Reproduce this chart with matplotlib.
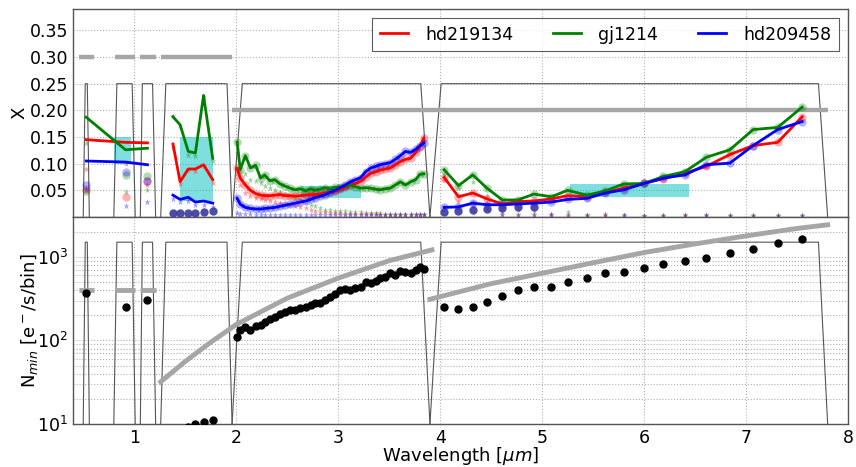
import numpy as np
import matplotlib
matplotlib.use("Agg")
import matplotlib.pyplot as plt
from matplotlib.patches import Rectangle

# ---------------- data ----------------
series_names = ["hd219134", "gj1214", "hd209458"]
series_colors = ["r", "g", "b"]

# filter bandpass trapezoids: (base_left, top_left, top_right, base_right)
bands = [(0.50, 0.52, 0.54, 0.56), (0.80, 0.83, 0.98, 1.01), (1.06, 1.08, 1.18, 1.21),
         (1.26, 1.31, 1.91, 1.96), (1.96, 2.06, 3.81, 3.90), (3.90, 4.01, 7.71, 7.80)]
band_top_x = 0.25
band_top_n = 1500

# threshold levels (top panel)
thr_x_segments = [(0.46, 0.61), (0.81, 1.01), (1.06, 1.21), (1.26, 1.96)]
thr_x_level = 0.30
thr_x_long = (1.96, 7.80)
thr_x_long_level = 0.20

# cyan regions (x0, x1, y0, y1)
cyan_boxes = [(0.80, 0.97, 0.100, 0.150), (1.45, 1.77, 0.030, 0.150),
              (2.64, 3.22, 0.035, 0.059), (5.27, 6.44, 0.038, 0.062)]

# ---- band 1 (photometric points)
b1_x = [0.53, 0.915, 1.13]
b1_red = [0.145, 0.140, 0.139]
b1_green = [0.187, 0.126, 0.129]
b1_blue = [0.105, 0.103, 0.098]
b1_red_circ = [0.053, 0.038, 0.068]
b1_green_circ = [0.049, 0.079, 0.077]
b1_blue_circ = [0.060, 0.085, 0.068]
b1_red_star = [0.090, 0.100, 0.060]
b1_green_star = [0.139, 0.046, 0.051]
b1_blue_star = [0.050, 0.021, 0.029]

# ---- band 2
b2_x = [1.38, 1.45, 1.53, 1.60, 1.68, 1.77]
b2_red = [0.137, 0.066, 0.090, 0.090, 0.098, 0.070]
b2_green = [0.188, 0.173, 0.123, 0.120, 0.228, 0.110]
b2_blue = [0.041, 0.033, 0.037, 0.028, 0.030, 0.026]
b2_circ = [0.007, 0.007, 0.007, 0.007, 0.010, 0.011]
b2_red_star = [0.130, 0.062, 0.088, 0.087, 0.095, 0.063]
b2_green_star = [0.190, 0.170, 0.117, 0.115, 0.225, 0.105]
b2_blue_star = [0.034, 0.028, 0.030, 0.022, 0.022, 0.019]

# ---- band 3 (spectroscopic)
b3_x = [2.01, 2.04, 2.09, 2.14, 2.19, 2.24, 2.28, 2.33, 2.38, 2.43, 2.48, 2.53, 2.58,
        2.63, 2.68, 2.73, 2.77, 2.82, 2.87, 2.92, 2.97, 3.02, 3.07, 3.12, 3.17, 3.22,
        3.27, 3.32, 3.37, 3.41, 3.46, 3.51, 3.56, 3.61, 3.66, 3.71, 3.76, 3.80, 3.84]
b3_green = [0.140, 0.089, 0.115, 0.092, 0.097, 0.073, 0.079, 0.068, 0.070, 0.062, 0.058,
            0.054, 0.051, 0.053, 0.049, 0.053, 0.050, 0.052, 0.055, 0.053, 0.056, 0.056,
            0.058, 0.060, 0.057, 0.054, 0.055, 0.054, 0.052, 0.051, 0.053, 0.054, 0.060,
            0.066, 0.060, 0.066, 0.070, 0.080, 0.081]
b3_red = [0.091, 0.073, 0.060, 0.050, 0.044, 0.041, 0.040, 0.040, 0.041, 0.042, 0.040,
          0.040, 0.039, 0.040, 0.041, 0.042, 0.042, 0.043, 0.045, 0.046, 0.048, 0.052,
          0.056, 0.060, 0.063, 0.067, 0.075, 0.082, 0.085, 0.088, 0.090, 0.092, 0.098,
          0.104, 0.108, 0.110, 0.121, 0.132, 0.148]
b3_blue = [0.035, 0.024, 0.018, 0.016, 0.015, 0.015, 0.016, 0.017, 0.018, 0.020, 0.022,
           0.024, 0.026, 0.028, 0.030, 0.033, 0.036, 0.039, 0.042, 0.046, 0.050, 0.055,
           0.060, 0.066, 0.070, 0.074, 0.085, 0.092, 0.095, 0.098, 0.100, 0.102, 0.108,
           0.115, 0.123, 0.121, 0.127, 0.133, 0.139]
b3_green_star = [0.120, 0.085, 0.080, 0.070, 0.068, 0.063, 0.058, 0.054, 0.050, 0.047, 0.043,
                 0.038, 0.035, 0.031, 0.028, 0.023, 0.020, 0.016, 0.014, 0.013, 0.012, 0.012,
                 0.011, 0.010, 0.009, 0.009, 0.008, 0.008, 0.007, 0.007, 0.006, 0.006, 0.006,
                 0.005, 0.005, 0.005, 0.005, 0.005, 0.005]
b3_red_star = [0.080, 0.060, 0.045, 0.040, 0.036, 0.034, 0.032, 0.030, 0.029, 0.027, 0.025,
               0.022, 0.020, 0.018, 0.016, 0.014, 0.012, 0.010, 0.009, 0.008, 0.007, 0.007,
               0.006, 0.006, 0.006, 0.005, 0.005, 0.005, 0.005, 0.004, 0.004, 0.004, 0.004,
               0.004, 0.004, 0.004, 0.004, 0.004, 0.004]
b3_blue_star = [0.008, 0.006, 0.005, 0.005, 0.004, 0.004, 0.004, 0.004, 0.004, 0.003, 0.003,
                0.003, 0.003, 0.003, 0.003, 0.003, 0.003, 0.003, 0.003, 0.003, 0.003, 0.003,
                0.003, 0.003, 0.003, 0.003, 0.003, 0.003, 0.003, 0.003, 0.003, 0.003, 0.003,
                0.003, 0.003, 0.003, 0.003, 0.003, 0.003]

# ---- band 4
b4_x = [4.04, 4.18, 4.32, 4.46, 4.61, 4.76, 4.92, 5.09, 5.25, 5.44, 5.62, 5.80, 6.00,
        6.19, 6.40, 6.61, 6.84, 7.07, 7.31, 7.55]
b4_green = [0.0885, 0.059, 0.079, 0.054, 0.032, 0.032, 0.043, 0.038, 0.050, 0.041, 0.049,
            0.062, 0.063, 0.076, 0.085, 0.112, 0.126, 0.164, 0.168, 0.206]
b4_red = [0.074, 0.038, 0.045, 0.034, 0.0245, 0.029, 0.030, 0.034, 0.040, 0.038, 0.046,
          0.054, 0.063, 0.072, 0.082, 0.095, 0.117, 0.134, 0.140, 0.188]
b4_blue = [0.018, 0.019, 0.026, 0.023, 0.023, 0.0245, 0.026, 0.028, 0.033, 0.035, 0.045,
           0.051, 0.063, 0.073, 0.079, 0.098, 0.101, 0.134, 0.164, 0.179]
b4_green_star = [0.078, 0.056, 0.065, 0.040, 0.012, 0.014, 0.011, 0.004, 0.010, 0.003,
                 0.005, 0.003, 0.002, 0.003, 0.004, 0.004, 0.003, 0.003, 0.003, 0.003]
b4_red_star = [0.070, 0.028, 0.029, 0.025, 0.005, 0.004, 0.004, 0.006, 0.004, 0.003,
               0.003, 0.003, 0.002, 0.002, 0.003, 0.003, 0.002, 0.002, 0.002, 0.002]
b4_blue_star = [0.018, 0.016, 0.020, 0.015, 0.003, 0.003, 0.003, 0.003, 0.002, 0.002,
                0.002, 0.002, 0.002, 0.002, 0.002, 0.002, 0.002, 0.002, 0.002, 0.002]
b4_low_x = [4.04, 4.18, 4.32, 4.46, 4.61, 4.76, 4.92]
b4_low_circ = [0.010, 0.011, 0.014, 0.015, 0.017, 0.018, 0.019]

# ---------------- bottom panel ----------------
nmin_b1_x = [0.53, 0.915, 1.13]
nmin_b1 = [374, 250, 305]
nmin_b2_x = [1.53, 1.60, 1.68, 1.77]
nmin_b2 = [9.2, 10.1, 10.6, 11.2]
nmin_b3 = [109, 134, 146, 134, 149, 153, 168, 181, 193, 208, 216, 232, 232, 243, 250,
           266, 279, 284, 305, 335, 360, 400, 410, 403, 429, 441, 506, 485, 520, 556,
           581, 638, 609, 686, 667, 649, 699, 753, 712]
nmin_b4 = [254, 238, 250, 292, 341, 399, 441, 441, 506, 556, 649, 661, 745, 824, 903,
           964, 1117, 1236, 1459, 1629]

ref_phot_level = 400
ref_phot_segments = [(0.46, 0.61), (0.81, 1.01), (1.06, 1.21)]
ref_curve1_x = [1.26, 1.5, 1.75, 2.0, 2.5, 3.0, 3.5, 3.92]
ref_curve1_y = [32, 56, 95, 155, 320, 556, 900, 1213]
ref_curve2_x = [3.90, 4.5, 5.0, 5.5, 6.0, 6.5, 7.0, 7.5, 7.80]
ref_curve2_y = [311, 478, 637, 850, 1127, 1430, 1783, 2190, 2420]

xticks = [1, 2, 3, 4, 5, 6, 7, 8]
yticks_top = [0.05, 0.10, 0.15, 0.20, 0.25, 0.30, 0.35]

# ---------------- plotting ----------------
plt.rcParams['font.family'] = ['DejaVu Sans']
plt.rcParams['mathtext.fontset'] = 'dejavusans'

fig = plt.figure(figsize=(8.56, 4.67), dpi=100)
ax1 = fig.add_axes([0.0853, 0.5353, 0.9054, 0.4454])
ax2 = fig.add_axes([0.0853, 0.0921, 0.9054, 0.4432], sharex=ax1)

GRAY = '#a6a6a6'
LOWBLUE = '#3a3aa0'
grid_kw = dict(color='#b0b0b0', linestyle=':', linewidth=0.8)

for ax in (ax1, ax2):
    for s in ax.spines.values():
        s.set_color('#555555')
        s.set_linewidth(1.0)
    ax.tick_params(length=0, labelsize=12.5)
    ax.set_axisbelow(True)

# ---- top panel
ax1.set_xlim(0.4, 8.0)
ax1.set_ylim(0, 0.39)
ax1.set_yticks(yticks_top)
ax1.set_yticklabels(['%.2f' % v for v in yticks_top])
ax1.grid(True, which='major', **grid_kw)
plt.setp(ax1.get_xticklabels(), visible=False)

for (a, b, c, d) in bands:
    ax1.plot([a, b, c, d], [0, band_top_x, band_top_x, 0], color='#555555', lw=0.8, zorder=2)
    ax2.plot([a, b, c, d], [10, band_top_n, band_top_n, 10], color='#555555', lw=0.8, zorder=2)

for (x0, x1) in thr_x_segments:
    ax1.plot([x0, x1], [thr_x_level, thr_x_level], color=GRAY, lw=3.2, zorder=2,
             solid_capstyle='butt')
ax1.plot(list(thr_x_long), [thr_x_long_level] * 2, color=GRAY, lw=3.2, zorder=2,
         solid_capstyle='butt')

for (x0, x1, y0, y1) in cyan_boxes:
    ax1.add_patch(Rectangle((x0, y0), x1 - x0, y1 - y0, facecolor='c', alpha=0.5,
                            edgecolor='none', zorder=1))

line_sets = {
    'r': [(b1_x, b1_red), (b2_x, b2_red), (b3_x, b3_red), (b4_x, b4_red)],
    'g': [(b1_x, b1_green), (b2_x, b2_green), (b3_x, b3_green), (b4_x, b4_green)],
    'b': [(b1_x, b1_blue), (b2_x, b2_blue), (b3_x, b3_blue), (b4_x, b4_blue)],
}
star_sets = {
    'r': [(b1_x, b1_red_star), (b2_x, b2_red_star), (b3_x, b3_red_star), (b4_x, b4_red_star)],
    'g': [(b1_x, b1_green_star), (b2_x, b2_green_star), (b3_x, b3_green_star), (b4_x, b4_green_star)],
    'b': [(b1_x, b1_blue_star), (b2_x, b2_blue_star), (b3_x, b3_blue_star), (b4_x, b4_blue_star)],
}
circ_sets = {
    'r': [(b1_x, b1_red_circ), (b3_x, b3_red), (b4_x, b4_red)],
    'g': [(b1_x, b1_green_circ), (b3_x, b3_green), (b4_x, b4_green)],
    'b': [(b1_x, b1_blue_circ), (b3_x, b3_blue), (b4_x, b4_blue)],
}

for col in ['g', 'r', 'b']:
    for (xs, ys) in circ_sets[col]:
        ax1.plot(xs, ys, 'o', color=col, alpha=0.3, ms=6, mec='none', zorder=3)
    for (xs, ys) in star_sets[col]:
        ax1.plot(xs, ys, '*', color=col, alpha=0.4, ms=5, mec='none', zorder=3)
ax1.plot(b2_x, b2_circ, 'o', color=LOWBLUE, alpha=0.9, ms=6, mec='none', zorder=3)
ax1.plot(b4_low_x, b4_low_circ, 'o', color=LOWBLUE, alpha=0.9, ms=6, mec='none', zorder=3)

handles = []
for name, col in zip(series_names, series_colors):
    for k, (xs, ys) in enumerate(line_sets[col]):
        h, = ax1.plot(xs, ys, '-', color=col, lw=2.0, zorder=4,
                      label=name if k == 0 else None)
        if k == 0:
            handles.append(h)

leg = ax1.legend(handles=handles, loc='upper right', ncol=3, fontsize=12.5,
                 frameon=True, fancybox=False, handlelength=1.6, handletextpad=1.0,
                 columnspacing=2.3, borderpad=0.45)
leg.get_frame().set_edgecolor('#333333')
leg.get_frame().set_linewidth(0.8)
ax1.set_ylabel('X', fontsize=13, labelpad=1)

# ---- bottom panel
ax2.set_yscale('log')
ax2.set_ylim(10, 3000)
ax2.set_xticks(xticks)
ax2.set_xticklabels([str(v) for v in xticks])
ax2.grid(True, which='major', **grid_kw)
ax2.grid(True, which='minor', axis='y', **grid_kw)
ax2.tick_params(which='minor', length=0)

for (x0, x1) in ref_phot_segments:
    ax2.plot([x0, x1], [ref_phot_level] * 2, color=GRAY, lw=3.5, zorder=2,
             solid_capstyle='butt')
ax2.plot(ref_curve1_x, ref_curve1_y, color=GRAY, lw=3.5, zorder=2)
ax2.plot(ref_curve2_x, ref_curve2_y, color=GRAY, lw=3.5, zorder=2)

ax2.plot(nmin_b1_x, nmin_b1, 'o', color='k', ms=5, zorder=5)
ax2.plot(nmin_b2_x, nmin_b2, 'o', color='k', ms=5, zorder=5)
ax2.plot(b3_x, nmin_b3, 'o', color='k', ms=5, zorder=5)
ax2.plot(b4_x, nmin_b4, 'o', color='k', ms=5, zorder=5)

ax2.set_ylabel(r'N$_{min}$ [e$^-$/s/bin]', fontsize=13, labelpad=-2)
ax2.set_xlabel(r'Wavelength [$\mu m$]', fontsize=13, labelpad=-1)
ax2.set_xlim(0.4, 8.0)

fig.savefig('out.png', dpi=100)
